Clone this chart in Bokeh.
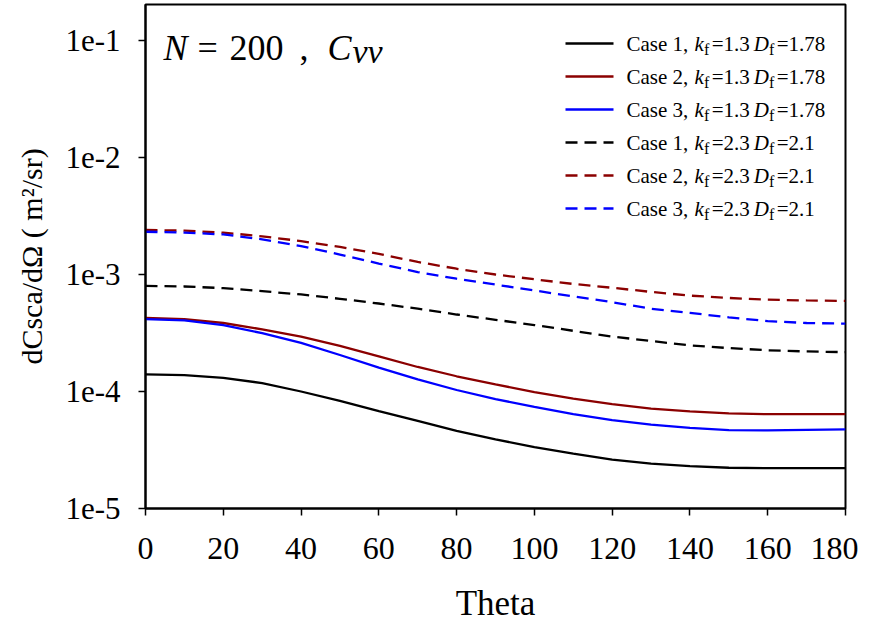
import numpy as np
from bokeh.plotting import figure
from bokeh.models import Range1d, FixedTicker, CustomJSTickFormatter, Label
from bokeh.embed import file_html
from bokeh.resources import INLINE

# ---------------- data ----------------
theta = [0, 10, 20, 30, 40, 50, 60, 70, 80, 90, 100, 110, 120, 130, 140, 150, 160, 170, 180]

case1_k13 = [1.40e-4, 1.38e-4, 1.31e-4, 1.18e-4, 1.00e-4, 8.3e-5, 6.8e-5, 5.6e-5, 4.6e-5, 3.9e-5,
             3.35e-5, 2.95e-5, 2.62e-5, 2.42e-5, 2.30e-5, 2.23e-5, 2.21e-5, 2.21e-5, 2.21e-5]
case2_k13 = [4.25e-4, 4.15e-4, 3.85e-4, 3.40e-4, 2.95e-4, 2.45e-4, 2.00e-4, 1.62e-4, 1.35e-4, 1.15e-4,
             9.9e-5, 8.7e-5, 7.8e-5, 7.15e-5, 6.75e-5, 6.5e-5, 6.4e-5, 6.4e-5, 6.4e-5]
case3_k13 = [4.15e-4, 4.05e-4, 3.70e-4, 3.15e-4, 2.60e-4, 2.05e-4, 1.60e-4, 1.27e-4, 1.03e-4, 8.6e-5,
             7.4e-5, 6.4e-5, 5.7e-5, 5.2e-5, 4.88e-5, 4.68e-5, 4.65e-5, 4.70e-5, 4.75e-5]
case1_k23 = [8.0e-4, 7.9e-4, 7.65e-4, 7.2e-4, 6.75e-4, 6.2e-4, 5.65e-4, 5.1e-4, 4.55e-4, 4.1e-4,
             3.7e-4, 3.3e-4, 2.95e-4, 2.7e-4, 2.48e-4, 2.35e-4, 2.25e-4, 2.2e-4, 2.17e-4]
case2_k23 = [2.40e-3, 2.37e-3, 2.28e-3, 2.12e-3, 1.93e-3, 1.72e-3, 1.50e-3, 1.28e-3, 1.12e-3, 1.00e-3,
             9.1e-4, 8.3e-4, 7.7e-4, 7.1e-4, 6.6e-4, 6.3e-4, 6.1e-4, 6.0e-4, 5.95e-4]
case3_k23 = [2.32e-3, 2.28e-3, 2.20e-3, 2.00e-3, 1.75e-3, 1.48e-3, 1.24e-3, 1.05e-3, 9.2e-4, 8.2e-4,
             7.3e-4, 6.5e-4, 5.8e-4, 5.1e-4, 4.7e-4, 4.3e-4, 4.0e-4, 3.85e-4, 3.8e-4]

x_ticks = [0, 20, 40, 60, 80, 100, 120, 140, 160, 180]
y_ticks = [1e-5, 1e-4, 1e-3, 1e-2, 1e-1]

case_names = ["Case 1", "Case 2", "Case 3", "Case 1", "Case 2", "Case 3"]
kf_vals = ["1.3", "1.3", "1.3", "2.3", "2.3", "2.3"]
df_vals = ["1.78", "1.78", "1.78", "2.1", "2.1", "2.1"]
series = [case1_k13, case2_k13, case3_k13, case1_k23, case2_k23, case3_k23]
colors = ["#000000", "#8b0000", "#0000ff", "#000000", "#8b0000", "#0000ff"]
dashes = ["solid", "solid", "solid", "12 7", "12 7", "12 7"]

# ---------------- layout ----------------
FW, FH = 700, 504
DEC = 117.0
YMIN = 1e-5
YMAX = 10 ** (np.log10(YMIN) + FH / DEC)
LEFT, TOP = 145, 4   # position of the frame in the picture
FONT = "Liberation Serif"

p = figure(frame_width=FW, frame_height=FH, y_axis_type="log",
           x_range=Range1d(0, 180), y_range=Range1d(YMIN, YMAX),
           output_backend="svg", toolbar_location=None,
           min_border_left=LEFT, min_border_right=13, min_border_top=TOP, min_border_bottom=0)

p.grid.visible = False
p.outline_line_color = "black"
p.outline_line_width = 2
p.background_fill_color = "white"
p.border_fill_color = "white"

p.xaxis.ticker = FixedTicker(ticks=x_ticks, minor_ticks=[])
p.yaxis.ticker = FixedTicker(ticks=y_ticks, minor_ticks=[])
p.yaxis.formatter = CustomJSTickFormatter(code="return tick.toExponential(0);")

for ax in (p.xaxis[0], p.yaxis[0]):
    ax.axis_line_width = 2
    ax.axis_line_color = "black"
    ax.major_tick_line_width = 1.5
    ax.major_tick_out = 7
    ax.major_tick_in = 0
    ax.minor_tick_line_color = None
    ax.major_label_text_font = FONT
    ax.major_label_text_color = "black"
    ax.axis_label_text_font = FONT
    ax.axis_label_text_font_style = "normal"
    ax.axis_label_text_color = "black"

p.xaxis.major_label_text_font_size = "32px"
p.xaxis.major_label_standoff = 22
p.xaxis.axis_label = "Theta"
p.xaxis.axis_label_text_font_size = "35px"
p.xaxis.axis_label_standoff = 22

p.yaxis.major_label_text_font_size = "31px"
p.yaxis.major_label_standoff = 18
p.yaxis.axis_label = "dCsca/dΩ ( m²/sr)"
p.yaxis.axis_label_text_font_size = "30px"
p.yaxis.axis_label_standoff = 14

# ---------------- curves ----------------
for ys, c, d in zip(series, colors, dashes):
    p.line(theta, ys, line_color=c, line_width=2.3, line_dash=d)


# ---------------- helpers: picture pixel -> data ----------------
def dx(px):
    return (px - LEFT) / FW * 180.0


def dy(py):
    return 10 ** (np.log10(YMIN) + (FH - (py - TOP)) / DEC)


def label(px, py, text, size, italic=False, baseline="middle"):
    p.add_layout(Label(x=dx(px), y=dy(py), text=text, text_font=FONT,
                       text_font_size=f"{size}px",
                       text_font_style="italic" if italic else "normal",
                       text_baseline=baseline, text_align="left", text_color="black"))


EM = {'C': .667, 'a': .444, 's': .389, 'e': .444, ' ': .25, '0': .5, '1': .5, '2': .5, '3': .5,
      '7': .5, '8': .5, ',': .25, '=': .564, '.': .25, 'k': .444, 'f': .3, 'D': .722}


def width(text, size):
    return sum(EM.get(ch, .5) for ch in text) * size


# ---------------- legend ----------------
FS, SUB = 21, 16
for i in range(6):
    yrow = 43 + 33 * i
    p.line([dx(565), dx(613)], [dy(yrow), dy(yrow)], line_color=colors[i], line_width=2.3,
           line_dash=dashes[i])
    x = 626
    t = f"{case_names[i]}, "
    label(x, yrow, t, FS); x += width(t, FS) + 1
    label(x, yrow, "k", FS, italic=True); x += width("k", FS)
    label(x, yrow + 6, "f", SUB); x += width("f", SUB) + 3
    t = f"={kf_vals[i]}"
    label(x, yrow, t, FS); x += width(t, FS) + 4
    label(x, yrow, "D", FS, italic=True); x += width("D", FS)
    label(x, yrow + 6, "f", SUB); x += width("f", SUB) + 3
    label(x, yrow, f"={df_vals[i]}", FS)

# ---------------- in-plot title ----------------
label(163, 47, "N", 36, italic=True, baseline="alphabetic")
label(197, 47, "=", 36, baseline="alphabetic")
label(229, 47, "200", 36, baseline="alphabetic")
label(299, 47, ",", 36, baseline="alphabetic")
label(327, 47, "C", 36, italic=True, baseline="alphabetic")
label(352, 51, "vv", 34, italic=True, baseline="alphabetic")

open("out.html", "w").write(file_html(p, INLINE))
